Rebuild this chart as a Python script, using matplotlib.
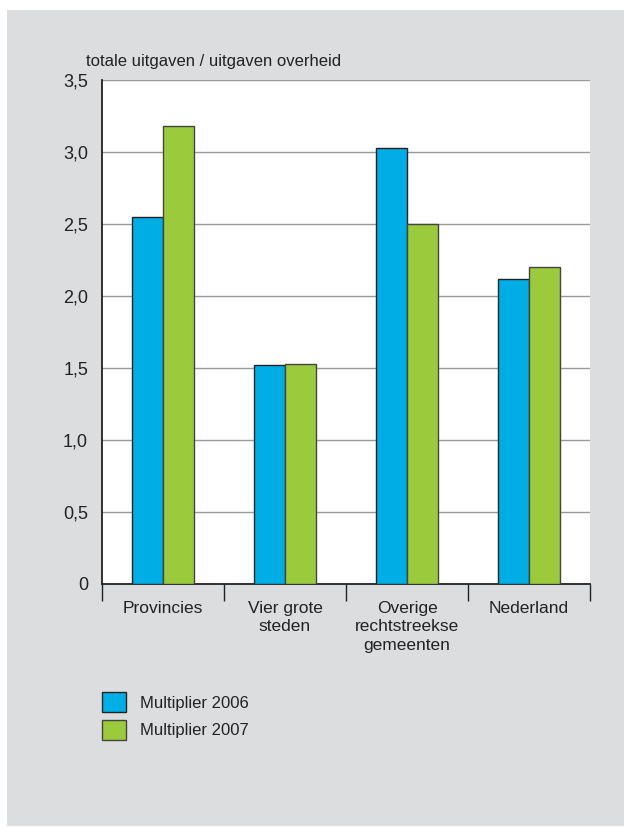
import matplotlib.pyplot as plt
from matplotlib.patches import Rectangle
import numpy as np
from matplotlib import font_manager

names = [f.name for f in font_manager.fontManager.ttflist]
if 'Liberation Sans Narrow' in names:
    fam = 'Liberation Sans Narrow'
    fs = 12.5
else:
    fam = 'Liberation Sans'
    fs = 11.5
plt.rcParams['font.family'] = [fam, 'DejaVu Sans']

# data
categories = ['Provincies', 'Vier grote\nsteden', 'Overige\nrechtstreekse\ngemeenten', 'Nederland']
mult_2006 = [2.55, 1.52, 3.03, 2.12]
mult_2007 = [3.18, 1.525, 2.50, 2.20]
yticks = [0, 0.5, 1.0, 1.5, 2.0, 2.5, 3.0, 3.5]
ytick_labels = ['0', '0,5', '1,0', '1,5', '2,0', '2,5', '3,0', '3,5']

blue = '#00aee6'
green = '#9bca3c'
grey_bg = '#dcdddf'

fig = plt.figure(figsize=(6.24, 8.27), dpi=100)
fig.patches.append(Rectangle((7 / 624, 1 / 827), 1 - 7 / 624, 816 / 827,
                             transform=fig.transFigure, facecolor=grey_bg,
                             edgecolor='none', zorder=-5))

ax = fig.add_axes([102 / 624, 1 - 584 / 827, 488 / 624, 504 / 827])
ax.set_facecolor('white')

x = np.arange(len(categories)) + 0.5
w = 0.255
ax.bar(x - w / 2, mult_2006, w, color=blue, edgecolor='#222222', linewidth=1, zorder=3,
       label='Multiplier 2006')
ax.bar(x + w / 2, mult_2007, w, color=green, edgecolor='#444444', linewidth=1, zorder=3,
       label='Multiplier 2007')

ax.set_xlim(0, 4)
ax.set_ylim(0, 3.5)
ax.set_yticks(yticks)
ax.set_yticklabels(ytick_labels, fontsize=fs + 1.5, color='#222222')
ax.tick_params(axis='y', length=0, pad=10)
ax.grid(axis='y', color='#999999', linewidth=1, zorder=1)

ax.set_xticks([0, 1, 2, 3, 4])
ax.set_xticklabels([])
ax.tick_params(axis='x', length=12, width=1, color='#222222', direction='out')
ax.set_xticks(x, minor=True)
ax.set_xticklabels(categories, minor=True, fontsize=fs + 1, color='#222222', linespacing=1.3)
ax.tick_params(axis='x', which='minor', length=0, pad=12)

for s in ['top', 'right']:
    ax.spines[s].set_visible(False)
ax.spines['left'].set_color('#222222')
ax.spines['bottom'].set_color('#222222')
ax.spines['left'].set_linewidth(1.3)
ax.spines['bottom'].set_linewidth(1.3)

fig.text(86 / 624, 1 - 66 / 827, 'totale uitgaven / uitgaven overheid',
         fontsize=fs + 0.5, color='#222222', va='baseline', ha='left')

h, l = ax.get_legend_handles_labels()
leg = fig.legend(h, l, loc='upper left', bbox_to_anchor=(102 / 624, 1 - 692 / 827),
                 frameon=False, fontsize=fs + 0.5, handlelength=1.45, handleheight=1.5,
                 handletextpad=0.85, labelspacing=0.45, borderaxespad=0, borderpad=0)
for t in leg.get_texts():
    t.set_color('#222222')

fig.savefig('out.png', dpi=100, facecolor='white')
